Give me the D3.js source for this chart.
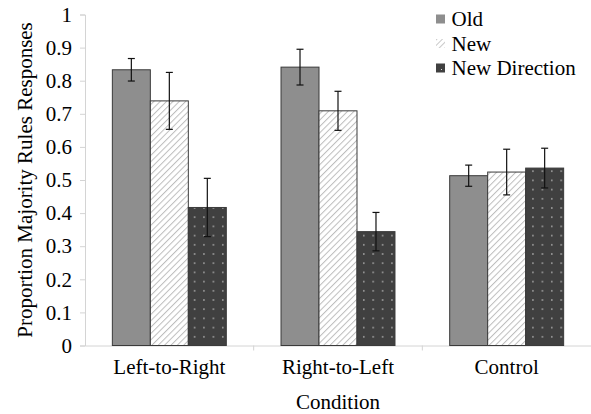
<!DOCTYPE html>
<html><head><meta charset="utf-8">
<script src="https://cdn.jsdelivr.net/npm/d3@7"></script>
<style>body{margin:0;background:#fff}text{font-family:"Liberation Serif","Times New Roman",serif;fill:#000}</style>
</head><body>
<svg id="c" width="591" height="414"></svg>
<script>
const categories = ["Left-to-Right", "Right-to-Left", "Control"];
const series = ["Old", "New", "New Direction"];
const oldVals = [0.833, 0.841, 0.513];
const newVals = [0.739, 0.709, 0.524];
const ndVals  = [0.417, 0.344, 0.536];
const oldErr  = [0.034, 0.054, 0.032];
const newErr  = [0.086, 0.059, 0.069];
const ndErr   = [0.088, 0.058, 0.060];
const yTicks = [0, 0.1, 0.2, 0.3, 0.4, 0.5, 0.6, 0.7, 0.8, 0.9, 1];

const values = [oldVals, newVals, ndVals];
const errs = [oldErr, newErr, ndErr];

const svg = d3.select("#c");
const defs = svg.append("defs");
const hatch = defs.append("pattern").attr("id","hatch").attr("patternUnits","userSpaceOnUse")
  .attr("width",4.5).attr("height",4.5).attr("patternTransform","rotate(45)");
hatch.append("rect").attr("width",4.5).attr("height",4.5).attr("fill","#fff");
hatch.append("line").attr("x1",0).attr("y1",0).attr("x2",0).attr("y2",4.5).attr("stroke","#bdbdbd").attr("stroke-width",2);
const dots = defs.append("pattern").attr("id","dots").attr("patternUnits","userSpaceOnUse")
  .attr("width",9.4).attr("height",9.2).attr("x",2).attr("y",1);
dots.append("rect").attr("width",9.4).attr("height",9.2).attr("fill","#404040");
dots.append("rect").attr("x",4).attr("y",4).attr("width",1.2).attr("height",1.2).attr("fill","#e8e8e8");
const fills = ["#8e8e8e", "url(#hatch)", "url(#dots)"];
const legendFills = ["#8e8e8e", "url(#hatchL)", "#404040"];

const x0 = d3.scaleBand().domain(categories).range([85, 591]).paddingInner(0).paddingOuter(0);
const x1 = d3.scaleBand().domain(series).range([0, x0.bandwidth()]).paddingInner(0).paddingOuter(0.72);
const y = d3.scaleLinear().domain([0, 1]).range([345.5, 14.5]);

// Y axis
const yAxis = svg.append("g").attr("transform","translate(85,0)")
  .call(d3.axisLeft(y).tickValues(yTicks).tickFormat(d => d3.format("")(d)).tickSize(5).tickPadding(8));
yAxis.attr("font-family", null);
yAxis.select(".domain").attr("stroke","#d4d4d4");
yAxis.selectAll(".tick line").attr("stroke","#d4d4d4");
yAxis.selectAll(".tick text").attr("font-size",21).attr("fill","#000");

// X axis
const xAxis = svg.append("g").attr("transform","translate(0,345.5)")
  .call(d3.axisBottom(x0).tickSize(0).tickPadding(14));
xAxis.attr("font-family", null);
xAxis.select(".domain").attr("stroke","#d4d4d4");
xAxis.selectAll(".tick text").attr("font-size",21).attr("fill","#000");
xAxis.selectAll(".sep").data(categories.slice(1)).join("line").attr("class","sep")
  .attr("x1",d=>x0(d)).attr("x2",d=>x0(d)).attr("y1",0).attr("y2",5).attr("stroke","#d4d4d4");

// Bars
series.forEach((s, si) => {
  const g = svg.append("g");
  g.selectAll("rect").data(categories).join("rect")
    .attr("x", (c) => x0(c) + x1(s))
    .attr("y", (c, i) => y(values[si][i]))
    .attr("width", x1.bandwidth())
    .attr("height", (c, i) => y(0) - y(values[si][i]))
    .attr("fill", fills[si])
    .attr("stroke", "#3a3a3a").attr("stroke-width", 1);
});
// Error bars
series.forEach((s, si) => {
  const g = svg.append("g").attr("stroke","#111").attr("stroke-width",1.2);
  categories.forEach((c, i) => {
    const cx = x0(c) + x1(s) + x1.bandwidth()/2;
    const hi = y(values[si][i] + errs[si][i]), lo = y(values[si][i] - errs[si][i]);
    g.append("line").attr("x1",cx).attr("x2",cx).attr("y1",hi).attr("y2",lo);
    g.append("line").attr("x1",cx-3.5).attr("x2",cx+3.5).attr("y1",hi).attr("y2",hi);
    g.append("line").attr("x1",cx-3.5).attr("x2",cx+3.5).attr("y1",lo).attr("y2",lo);
  });
});

// Legend
const hatchL = defs.append("pattern").attr("id","hatchL").attr("patternUnits","userSpaceOnUse")
  .attr("width",4).attr("height",4).attr("patternTransform","rotate(45)");
hatchL.append("rect").attr("width",4).attr("height",4).attr("fill","#fff");
hatchL.append("line").attr("x1",0).attr("y1",0).attr("x2",0).attr("y2",4).attr("stroke","#c8c8c8").attr("stroke-width",2);
const lg = svg.append("g");
series.forEach((s, si) => {
  const cy = 19 + si * 24.5;
  lg.append("rect").attr("x",436).attr("y",cy-4.5).attr("width",9).attr("height",9).attr("fill",legendFills[si]);
  if (si === 2) lg.append("rect").attr("x",441).attr("y",cy+1).attr("width",1).attr("height",1).attr("fill","#ddd");
  lg.append("text").attr("x",451.5).attr("y",cy+7).attr("font-size",21).text(s);
});

// Axis titles
svg.append("text").attr("transform","translate(32,180) rotate(-90)").attr("text-anchor","middle")
  .attr("font-size",21).text("Proportion Majority Rules Responses");
svg.append("text").attr("x",338).attr("y",409).attr("text-anchor","middle").attr("font-size",21).text("Condition");
</script>
</body></html>
